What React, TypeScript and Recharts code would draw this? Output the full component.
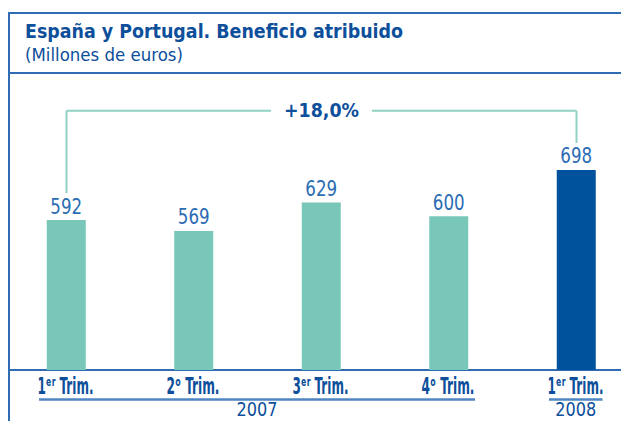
import { BarChart, Bar, Cell, XAxis, YAxis, LabelList, ReferenceLine } from "recharts";

const quarters = ["1ᵉʳ", "2ᵒ", "3ᵉʳ", "4ᵒ", "1ᵉʳ"];
const years = ["2007", "2007", "2007", "2007", "2008"];
const values = [592, 569, 629, 600, 698];
const changeLabel = "+18,0%";

const W = 621;
const H = 421;
// the last band runs past the right edge of the picture, so the chart is wider and clipped
const CHART_W = 660;
const M = { top: 98, right: 19.75, bottom: 11, left: 2.75 };
const AXIS_H = 40;
const STEP = (CHART_W - M.left - M.right) / values.length;

// the original uses a condensed face; DejaVu Sans Condensed is squeezed to the measured widths
const FONT = "'DejaVu Sans Condensed', 'DejaVu Sans', sans-serif";
const DARK = "#0d4f9b";
const LABEL = "#2b6cb4";
const TEAL = "#79c7b8";
const NAVY = "#00529c";
const LINE = "#8fd2c4";
const FRAME = "#2f6cb3";

const data = values.map((v, i) => ({
  key: `${quarters[i]} Trim. ${years[i]}`,
  quarter: `${quarters[i]} Trim.`,
  year: years[i],
  value: v,
}));

const first = data[0].key;
const last = data[data.length - 1].key;

// text squeezed horizontally to a given width
function Narrow({ x, y, width, sx, children, ...rest }: any) {
  return (
    <g transform={`translate(${x} ${y}) scale(${sx} 1)`}>
      <text x={0} y={0} textLength={width / sx} lengthAdjust="spacingAndGlyphs" {...rest}>
        {children}
      </text>
    </g>
  );
}

function QuarterTick(props: any) {
  const { x, y, payload } = props;
  const i = payload.index;
  const d = data[i];
  const startsGroup = i === 0 || data[i - 1].year !== d.year;
  let count = 0;
  if (startsGroup) {
    for (let j = i; j < data.length && data[j].year === d.year; j++) count++;
  }
  const er = d.quarter.includes("ʳ");
  const w = er ? 56 : 53;
  const x0 = x - 27.5;
  const x1 = x + (count - 1) * STEP + 26;
  return (
    <g>
      <Narrow x={x - w / 2 - 1} y={y + 23.5} width={w} sx={0.58} fill={DARK} fontFamily={FONT} fontWeight="bold" fontSize={23}>
        {d.quarter}
      </Narrow>
      {startsGroup && (
        <g>
          <line x1={x0} x2={x1} y1={y + 29.5} y2={y + 29.5} stroke="#4f86c2" strokeWidth={2.5} />
          <Narrow x={(x0 + x1) / 2 - 20.5} y={y + 46} width={41} sx={0.8} fill={DARK} fontFamily={FONT} fontSize={20}>
            {d.year}
          </Narrow>
        </g>
      )}
    </g>
  );
}

function ValueLabel(props: any) {
  const { x, y, width, value } = props;
  const len = String(value).length * 10.6;
  return (
    <Narrow x={x + width / 2 - len / 2} y={y - 6.5} width={len} sx={0.78} fill={LABEL} fontFamily={FONT} fontSize={21.5}>
      {value}
    </Narrow>
  );
}

function PctLabel(props: any) {
  const { viewBox } = props;
  const cx = viewBox.x + viewBox.width / 2;
  const cy = viewBox.y;
  return (
    <g>
      <rect x={cx - 50.5} y={cy - 8} width={101} height={16} fill="#fff" />
      <Narrow x={cx - 37.5} y={cy + 6} width={75} sx={0.85} fill={DARK} fontFamily={FONT} fontWeight="bold" fontSize={20}>
        {changeLabel}
      </Narrow>
    </g>
  );
}

export default function App() {
  return (
    <div style={{ position: "absolute", left: 0, top: 0, width: W, height: H, background: "#fff", overflow: "hidden" }}>
      <div style={{ position: "absolute", left: 8, top: 12, width: W - 8, height: H - 12, borderLeft: `2px solid ${FRAME}`, borderTop: `2px solid ${FRAME}` }} />
      <div style={{ position: "absolute", left: 8, top: 72, width: W - 8, borderTop: `2px solid ${FRAME}` }} />
      <div style={{ position: "absolute", left: 8, top: 369, width: W - 8, borderTop: `2px solid ${FRAME}` }} />
      <svg style={{ position: "absolute", left: 0, top: 0 }} width={W} height={72}>
        <text x={25} y={37.5} fill={DARK} fontFamily={FONT} fontWeight="bold" fontSize={20} textLength={378} lengthAdjust="spacingAndGlyphs">
          España y Portugal. Beneficio atribuido
        </text>
        <text x={25} y={61} fill={DARK} fontFamily={FONT} fontSize={17} textLength={158} lengthAdjust="spacingAndGlyphs">
          (Millones de euros)
        </text>
      </svg>
      <div style={{ position: "absolute", left: 0, top: 0 }}>
        <BarChart width={CHART_W} height={H} data={data} margin={M} barSize={39}>
          <XAxis
            dataKey="key"
            height={AXIS_H}
            axisLine={false}
            tickLine={false}
            tickSize={0}
            tickMargin={0}
            interval={0}
            tick={<QuarterTick />}
          />
          <YAxis hide domain={[275, 850]} />
          <ReferenceLine
            segment={[{ x: first, y: 823 }, { x: last, y: 823 }]}
            stroke={LINE}
            strokeWidth={2}
            label={{ content: (p: any) => <PctLabel {...p} /> }}
          />
          <ReferenceLine segment={[{ x: first, y: 823 }, { x: first, y: 649 }]} stroke={LINE} strokeWidth={2} />
          <ReferenceLine segment={[{ x: last, y: 823 }, { x: last, y: 755 }]} stroke={LINE} strokeWidth={2} />
          <Bar dataKey="value" isAnimationActive={false}>
            {data.map((d, i) => (
              <Cell key={i} fill={d.year === "2008" ? NAVY : TEAL} />
            ))}
            <LabelList dataKey="value" content={(p: any) => <ValueLabel {...p} />} />
          </Bar>
        </BarChart>
      </div>
    </div>
  );
}
